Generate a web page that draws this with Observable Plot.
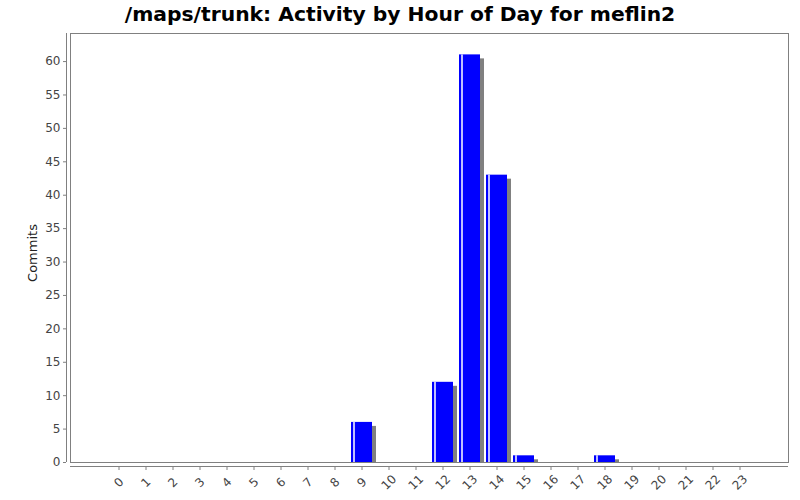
<!DOCTYPE html>
<html>
<head>
<meta charset="utf-8">
<script src="https://cdn.jsdelivr.net/npm/d3@7"></script>
<script src="https://cdn.jsdelivr.net/npm/@observablehq/plot@0.6"></script>
<style>
  body { margin: 0; background: #fff; font-family: "DejaVu Sans", sans-serif; }
  #title { height: 30px; line-height: 28px; text-align: center; font-weight: bold; font-size: 20.3px; color: #000; }
  svg { display: block; }
</style>
</head>
<body>
<div id="title">/maps/trunk: Activity by Hour of Day for meflin2</div>
<div id="chart"></div>
<script>
const hours = ["0","1","2","3","4","5","6","7","8","9","10","11","12","13","14","15","16","17","18","19","20","21","22","23"];
const commits = [0,0,0,0,0,0,0,0,0,6,0,0,12,61,43,1,0,0,1,0,0,0,0,0];
const yTicks = [0,5,10,15,20,25,30,35,40,45,50,55,60];

const data = hours.map((h, i) => ({hour: h, commits: commits[i]}));
const nonzero = data.filter(d => d.commits > 0);

const plot = Plot.plot({
  width: 800,
  height: 470,
  marginTop: 3,
  marginBottom: 38,
  marginLeft: 70,
  marginRight: 12,
  style: {fontFamily: "DejaVu Sans, sans-serif", fontSize: "12px", color: "#444", background: "#fff"},
  x: {type: "band", domain: hours, paddingInner: 0.23, paddingOuter: 1.33, label: null},
  y: {domain: [0, 64.2], label: null},
  marks: [
    Plot.barY(nonzero, {x: "hour", y: "commits", fill: "#808080", dx: 4, dy: 4, clip: "frame"}),
    Plot.barY(nonzero, {x: "hour", y: "commits", fill: "#0000ff"}),
    Plot.ruleX(nonzero, {x: "hour", y1: 0, y2: "commits", dx: -8, stroke: "#ffffff", strokeWidth: 2, strokeOpacity: 0.75}),
    Plot.frame({stroke: "#808080"}),
    Plot.ruleY([0], {dy: 4, stroke: "#808080"}),
    Plot.axisX({tickSize: 4, dy: 4, stroke: "#808080", text: null}),
    Plot.axisX({tickSize: 0, tickRotate: -45, textAnchor: "middle", lineAnchor: "middle", dy: 20, tickPadding: 0, fill: "#444"}),
    Plot.axisY({ticks: yTicks, tickSize: 3, dx: -4, tickPadding: 3, stroke: "#808080", fill: "#444"}),
    Plot.text(["Commits"], {frameAnchor: "left", textAnchor: "middle", dx: -38, dy: 5, rotate: -90, fontSize: 13, fill: "#222"})
  ]
});

d3.select(plot).append("line")
  .attr("x1", 66.5).attr("x2", 66.5)
  .attr("y1", 3).attr("y2", 432)
  .attr("stroke", "#808080");

document.getElementById("chart").appendChild(plot);
</script>
</body>
</html>
